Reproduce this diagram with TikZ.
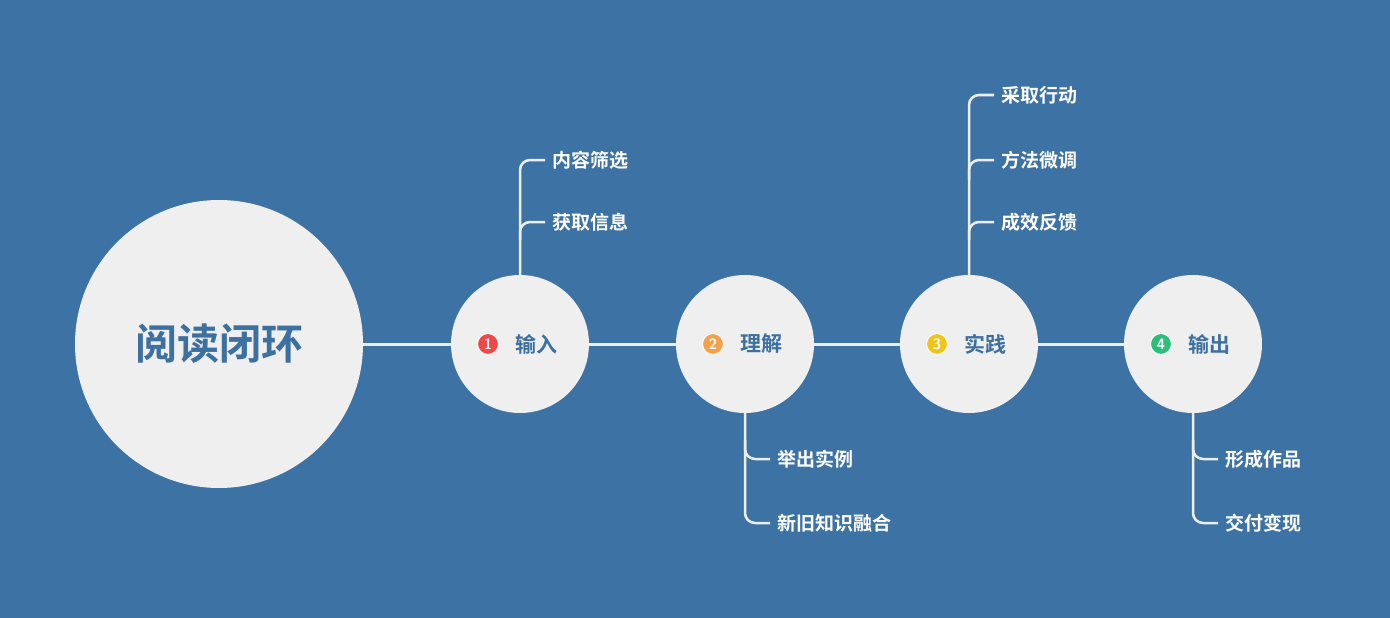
\documentclass[tikz,border=0pt]{standalone}
\usepackage{fontspec}
\newfontfamily\cjk{Noto Sans CJK SC}[BoldFont={Noto Sans CJK SC Bold}]
\definecolor{bg}{HTML}{3D72A4}
\definecolor{disc}{HTML}{EFEFEF}
\definecolor{ink}{HTML}{3C70A0}
\definecolor{lne}{HTML}{EEEEEE}
\definecolor{cA}{HTML}{F04848}
\definecolor{cB}{HTML}{F5A04A}
\definecolor{cC}{HTML}{F0C419}
\definecolor{cD}{HTML}{2DBE7A}
\tikzset{
  disk/.style={circle,fill=disc,minimum size=138pt,inner sep=0},
  conn/.style={draw=lne,line width=3pt},
  br/.style={draw=lne,line width=2.5pt,rounded corners=10pt},
  leaf/.style={anchor=west,text=white,font=\cjk\bfseries\fontsize{19}{19}\selectfont,inner sep=0},
  badge/.style={circle,fill=#1,draw=white,line width=1pt,minimum size=21pt,inner sep=0,text=white,font=\sffamily\bfseries\fontsize{15}{15}\selectfont},
  lab/.style={text=ink,font=\cjk\bfseries\fontsize{21}{21}\selectfont,anchor=west,inner sep=0}
}
\begin{document}
\begin{tikzpicture}[x=1pt,y=-1pt]
\fill[bg] (0,0) rectangle (1390,618);
\useasboundingbox (0,0) rectangle (1390,618);
\node[circle,fill=disc,minimum size=288pt,inner sep=0] (main) at (219,344) {};
\node[text=ink,font=\cjk\bfseries\fontsize{42}{42}\selectfont] at (219,344) {阅读闭环};
\node[disk] (n1) at (520,344) {};
\node[disk] (n2) at (745,344) {};
\node[disk] (n3) at (969,344) {};
\node[disk] (n4) at (1193,344) {};
\draw[conn] (main) -- (n1); \draw[conn] (n1) -- (n2); \draw[conn] (n2) -- (n3); \draw[conn] (n3) -- (n4);
\node[badge=cA] (b1) at (488,344) {1}; \node[lab] (l1) at (515,344) {输入};
\node[badge=cB] (b2) at (713,344) {2}; \node[lab] (l2) at (740,344) {理解};
\node[badge=cC] (b3) at (937,344) {3}; \node[lab] (l3) at (964,344) {实践};
\node[badge=cD] (b4) at (1161,344) {4}; \node[lab] (l4) at (1188,344) {输出};
% branch 1 up
\node[leaf] (a1) at (552,160) {内容筛选};
\node[leaf] (a2) at (552,222) {获取信息};
\draw[br] (n1.north) -- (520,160) -- (545,160);
\draw[br] (520,240) -- (520,222) -- (545,222);
% branch 3 up
\node[leaf] (c1) at (1001,95) {采取行动};
\node[leaf] (c2) at (1001,160) {方法微调};
\node[leaf] (c3) at (1001,222) {成效反馈};
\draw[br] (n3.north) -- (969,95) -- (994,95);
\draw[br] (969,180) -- (969,160) -- (994,160);
\draw[br] (969,240) -- (969,222) -- (994,222);
% branch 2 down
\node[leaf] (d1) at (777,459) {举出实例};
\node[leaf] (d2) at (777,523) {新旧知识融合};
\draw[br] (n2.south) -- (745,523) -- (770,523);
\draw[br] (745,440) -- (745,459) -- (770,459);
% branch 4 down
\node[leaf] (e1) at (1225,459) {形成作品};
\node[leaf] (e2) at (1225,523) {交付变现};
\draw[br] (n4.south) -- (1193,523) -- (1218,523);
\draw[br] (1193,440) -- (1193,459) -- (1218,459);
\end{tikzpicture}
\end{document}
